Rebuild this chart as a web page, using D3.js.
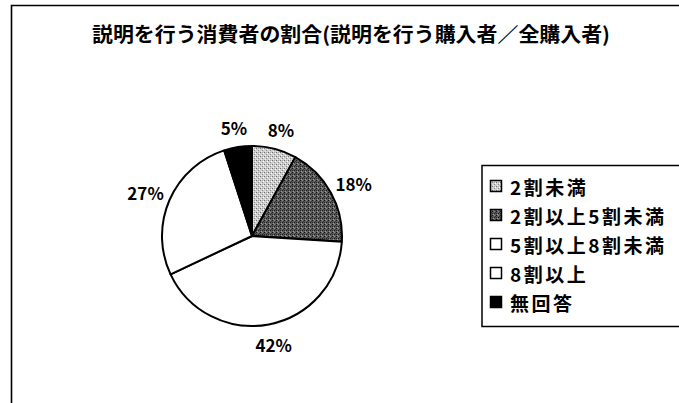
<!DOCTYPE html>
<html>
<head>
<meta charset="utf-8">
<script src="https://cdn.jsdelivr.net/npm/d3@7"></script>
<style>
  html, body { margin: 0; padding: 0; background: #fff; }
  svg { display: block; }
  text { font-family: "Noto Sans CJK JP", "Noto Sans", sans-serif; fill: #000; }
</style>
</head>
<body>
<script>
// Chart content
const title = "説明を行う消費者の割合(説明を行う購入者／全購入者)";
const categories = ["2割未満", "2割以上5割未満", "5割以上8割未満", "8割以上", "無回答"];
const values = [8, 18, 42, 27, 5];
const fills = ["url(#dotsLight)", "url(#dotsDark)", "#ffffff", "#ffffff", "#000000"];

const W = 679, H = 403;
const svg = d3.select("body").append("svg").attr("width", W).attr("height", H);

// Stippled fills for the two shaded categories
const defs = svg.append("defs");
function stipple(id, bg, dots) {
  const p = defs.append("pattern").attr("id", id)
    .attr("patternUnits", "userSpaceOnUse").attr("width", 4).attr("height", 4);
  p.append("rect").attr("width", 4).attr("height", 4).attr("fill", bg);
  dots.forEach(([x, y, c]) => p.append("rect").attr("x", x).attr("y", y)
    .attr("width", 1).attr("height", 1).attr("fill", c));
}
stipple("dotsLight", "#cfcfcf", [[0, 0, "#6e6e6e"], [2, 2, "#8a8a8a"], [1, 3, "#f2f2f2"], [3, 1, "#ffffff"], [2, 0, "#a8a8a8"]]);
stipple("dotsDark", "#5c5c5c", [[0, 0, "#111"], [2, 2, "#1c1c1c"], [1, 3, "#a0a0a0"], [3, 1, "#333"], [2, 0, "#8a8a8a"], [0, 2, "#2a2a2a"]]);

// Chart-area frame (runs off the right and bottom edges)
svg.append("path")
  .attr("d", d3.line()([[11.5, H + 5], [11.5, 5.5], [W + 5, 5.5]]))
  .attr("fill", "none").attr("stroke", "#000").attr("stroke-width", 1.6);

// Title
svg.append("text")
  .attr("x", 92).attr("y", 42)
  .attr("textLength", 518).attr("lengthAdjust", "spacingAndGlyphs")
  .style("font-size", "20px").style("font-weight", 700)
  .text(title);

// Pie
const cx = 252, cy = 236, R = 90;
const pie = d3.pie().sort(null).value(d => d)(values);
const arc = d3.arc().innerRadius(0).outerRadius(R);
const g = svg.append("g").attr("transform", `translate(${cx},${cy})`);

g.selectAll("path.slice").data(pie).join("path")
  .attr("class", "slice")
  .attr("d", arc)
  .attr("fill", (d, i) => fills[i])
  .attr("stroke", "#000").attr("stroke-width", 2).attr("stroke-linejoin", "round");

// Percentage labels outside the slices
const labelArc = d3.arc().innerRadius(110).outerRadius(110);
g.selectAll("text.pct").data(pie).join("text")
  .attr("class", "pct")
  .attr("transform", d => {
    const [x, y] = labelArc.centroid(d);
    const a = (d.startAngle + d.endAngle) / 2;
    return `translate(${x + 6 * Math.sin(a)},${y})`;
  })
  .attr("text-anchor", "middle").attr("dominant-baseline", "central")
  .style("font-size", "17px").style("font-weight", 700)
  .text(d => d.data + "%");

// Legend
const lx = 482, ly = 165.5, lh = 161;
svg.append("path")
  .attr("d", d3.line()([[W + 5, ly], [lx, ly], [lx, ly + lh], [W + 5, ly + lh]]))
  .attr("fill", "none").attr("stroke", "#000").attr("stroke-width", 1.5);

const rowY = d3.scalePoint().domain(categories).range([186, 302]);
const items = svg.append("g").selectAll("g").data(categories).join("g")
  .attr("transform", d => `translate(0,${rowY(d)})`);
items.append("rect")
  .attr("x", 490.5).attr("y", -5.5).attr("width", 11).attr("height", 11)
  .attr("fill", (d, i) => fills[i])
  .attr("stroke", "#000").attr("stroke-width", 1.5);
items.append("text")
  .attr("x", 510).attr("y", 0)
  .attr("dominant-baseline", "central")
  .style("font-size", "19px").style("font-weight", 700)
  .style("letter-spacing", "2.5px")
  .text(d => d);
</script>
</body>
</html>
